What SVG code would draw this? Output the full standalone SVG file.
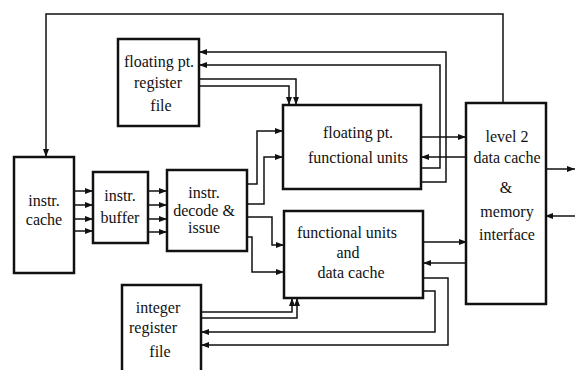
<svg xmlns="http://www.w3.org/2000/svg" width="575" height="370" viewBox="0 0 575 370">
<style>
.box{fill:#fff;stroke:#111;stroke-width:2.5}
.c{fill:none;stroke:#111;stroke-width:1.5}
.a{marker-end:url(#ah)}
</style>
<defs>
<marker id="ah" markerUnits="userSpaceOnUse" markerWidth="9" markerHeight="7" refX="8" refY="3" orient="auto">
<path d="M0,0 L8,3 L0,6 z" fill="#111"/>
</marker>
</defs>
<rect width="575" height="370" fill="#fff"/>
<g id="connectors">
<path class="c a" d="M503,103 V14 H46 V157"/>
<path class="c a" d="M74,191 H93"/>
<path class="c a" d="M74,205 H93"/>
<path class="c a" d="M74,219 H93"/>
<path class="c a" d="M74,231 H93"/>
<path class="c a" d="M148,191 H167"/>
<path class="c a" d="M148,205 H167"/>
<path class="c a" d="M148,219 H167"/>
<path class="c a" d="M148,232 H167"/>
<path class="c a" d="M247,184 H257 V131 H283"/>
<path class="c a" d="M247,204 H264 V157 H283"/>
<path class="c a" d="M247,217 H272 V245 H284"/>
<path class="c a" d="M247,237 H252 V272 H284"/>
<path class="c a" d="M199,79 H296 V105"/>
<path class="c a" d="M199,86 H289 V105"/>
<path class="c a" d="M421,182 H446 V52 H199"/>
<path class="c a" d="M421,168 H440 V65 H199"/>
<path class="c a" d="M421,137 H466"/>
<path class="c a" d="M466,157 H421"/>
<path class="c a" d="M423,242 H467"/>
<path class="c a" d="M467,263 H423"/>
<path class="c a" d="M423,278 H448 V345 H201"/>
<path class="c a" d="M423,291 H435 V332 H201"/>
<path class="c a" d="M201,312 H292 V298"/>
<path class="c a" d="M201,318 H297 V298"/>
<path class="c a" d="M545,169 H575"/>
<path class="c a" d="M575,216 H545"/>
</g>
<g font-family="Liberation Serif, serif" font-size="16" fill="#111" text-anchor="middle">
<g id="fp-register-file">
<rect class="box" x="118" y="39" width="81" height="87"/>
<text x="159" y="67">floating pt.</text>
<text x="158" y="88">register</text>
<text x="161" y="111">file</text>
</g>
<g id="instr-cache">
<rect class="box" x="14" y="157" width="60" height="116"/>
<text x="44" y="206">instr.</text>
<text x="44" y="225">cache</text>
</g>
<g id="instr-buffer">
<rect class="box" x="93" y="172" width="55" height="71"/>
<text x="120" y="201">instr.</text>
<text x="120" y="223">buffer</text>
</g>
<g id="instr-decode">
<rect class="box" x="167" y="170" width="80" height="81"/>
<text x="204" y="198">instr.</text>
<text x="204" y="216">decode &amp;</text>
<text x="204" y="233">issue</text>
</g>
<g id="fp-functional-units">
<rect class="box" x="283" y="105" width="138" height="84"/>
<text x="358" y="138">floating pt.</text>
<text x="358" y="163">functional units</text>
</g>
<g id="functional-units-data-cache">
<rect class="box" x="284" y="211" width="139" height="87"/>
<text x="347" y="238">functional units</text>
<text x="348" y="258">and</text>
<text x="351" y="278">data cache</text>
</g>
<g id="integer-register-file">
<rect class="box" x="122" y="285" width="79" height="95"/>
<text x="158" y="313">integer</text>
<text x="153" y="333">register</text>
<text x="160" y="357">file</text>
</g>
<g id="level2-data-cache">
<rect class="box" x="466" y="103" width="80" height="201"/>
<text x="507" y="142">level 2</text>
<text x="507" y="163">data cache</text>
<text x="506" y="193">&amp;</text>
<text x="507" y="217">memory</text>
<text x="507" y="240">interface</text>
</g>
</g>
</svg>
